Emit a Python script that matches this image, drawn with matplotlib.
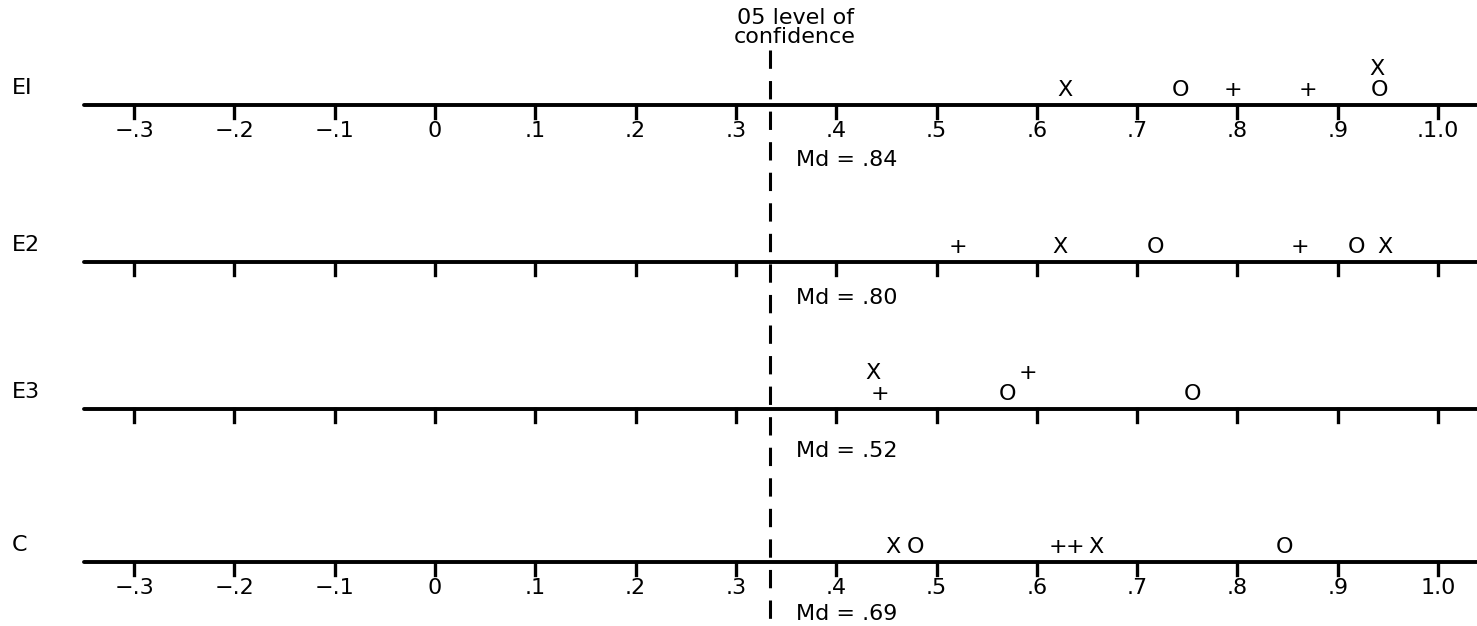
import numpy as np
import matplotlib
matplotlib.use("Agg")
import matplotlib.pyplot as plt

# ---------------- data ----------------
row_labels = ["EI", "E2", "E3", "C"]
medians = [".84", ".80", ".52", ".69"]
confidence_level = 0.334

tick_values = [-0.3, -0.2, -0.1, 0.0, 0.1, 0.2, 0.3, 0.4, 0.5, 0.6, 0.7, 0.8, 0.9, 1.0]
tick_labels_e1 = ["\u2212.3", "\u2212.2", "\u2212.1", "0", ".1", ".2", ".3", ".4", ".5", ".6", ".7", ".8", ".9", ".1.0"]
tick_labels_c = ["\u2212.3", "\u2212.2", "\u2212.1", "0", ".1", ".2", ".3", ".4", ".5", ".6", ".7", ".8", ".9", "1.0"]

e1_values = [0.628, 0.743, 0.796, 0.870, 0.939, 0.942]
e1_symbols = ["X", "O", "+", "+", "X", "O"]
e1_stack = [0, 0, 0, 0, 1, 0]

e2_values = [0.521, 0.623, 0.718, 0.862, 0.919, 0.947]
e2_symbols = ["+", "X", "O", "+", "O", "X"]
e2_stack = [0, 0, 0, 0, 0, 0]

e3_values = [0.437, 0.444, 0.571, 0.591, 0.755]
e3_symbols = ["X", "+", "O", "+", "O"]
e3_stack = [1, 0, 0, 1, 0]

c_values = [0.457, 0.479, 0.621, 0.638, 0.659, 0.847]
c_symbols = ["X", "O", "+", "+", "X", "O"]
c_stack = [0, 0, 0, 0, 0, 0]

# ---------------- layout (pixel-like vertical units) ----------------
W, H = 1477, 626
line_y = [105, 262, 409, 562]
md_below = [61, 42, 48, 58]
label_rows = {0: tick_labels_e1, 3: tick_labels_c}
rows_values = [e1_values, e2_values, e3_values, c_values]
rows_symbols = [e1_symbols, e2_symbols, e3_symbols, c_symbols]
rows_stack = [e1_stack, e2_stack, e3_stack, c_stack]

px0, px_per_unit = 435.0, 1003.0
xmin = -px0 / px_per_unit
xmax = (W - px0) / px_per_unit
line_start = -0.35

FONT = "DejaVu Sans"
plt.rcParams["font.family"] = [FONT]

fig = plt.figure(figsize=(W / 100, H / 100), dpi=100)
ax = fig.add_axes([0, 0, 1, 1])
ax.set_xlim(xmin, xmax)
ax.set_ylim(H, 0)
ax.axis("off")

tick_len = 13
for r, ly in enumerate(line_y):
    ax.plot([line_start, xmax], [ly, ly], color="black", lw=2.8, solid_capstyle="round")
    for tv in tick_values:
        ax.plot([tv, tv], [ly, ly + tick_len], color="black", lw=2.4)
    if r in label_rows:
        for tv, tl in zip(tick_values, label_rows[r]):
            ax.text(tv, ly + 32, tl, ha="center", va="baseline", fontsize=16, color="black")
    ax.text(12 / px_per_unit + xmin, ly - 11, row_labels[r], ha="left", va="baseline",
            fontsize=16, color="black")
    for v, s, st in zip(rows_values[r], rows_symbols[r], rows_stack[r]):
        base = ly - 9 - 21 * st
        ax.text(v, base, s, ha="center", va="baseline", fontsize=16, color="black")
    ax.text(confidence_level + 0.026, ly + md_below[r], "Md = " + medians[r],
            ha="left", va="baseline", fontsize=16, color="black")

# dashed significance line
ax.plot([confidence_level, confidence_level], [50, H], color="black", lw=2.2,
        dashes=(6, 4))
ax.text(confidence_level + 0.025, 24, "05 level of", ha="center", va="baseline",
        fontsize=16, color="black")
ax.text(confidence_level + 0.025, 43, "confidence", ha="center", va="baseline",
        fontsize=16, color="black")

fig.savefig("out.png", dpi=100, facecolor="white")
